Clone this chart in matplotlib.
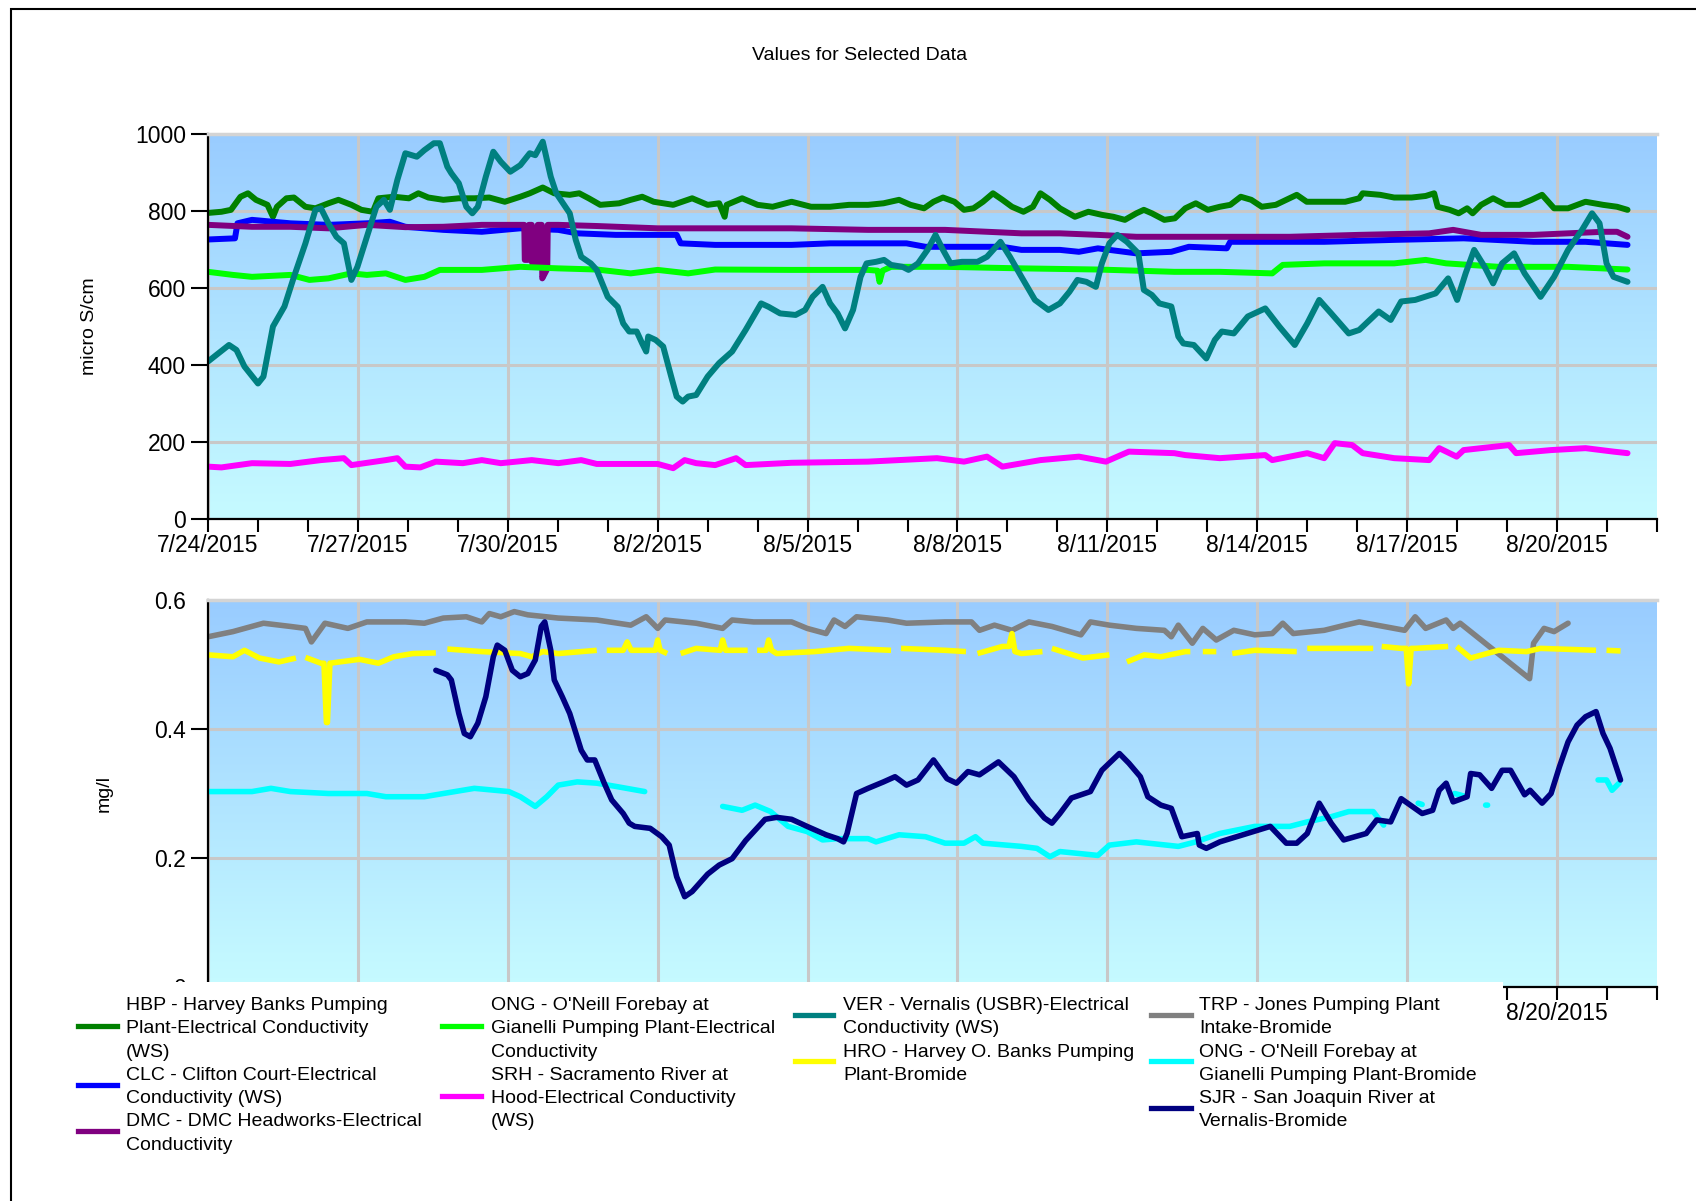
import numpy as np
import pandas as pd
import matplotlib
matplotlib.use("Agg")
import matplotlib.pyplot as plt
import matplotlib.dates as mdates
from matplotlib.colors import LinearSegmentedColormap
from matplotlib.lines import Line2D
from matplotlib.patches import Rectangle

plt.rcParams['font.family'] = ['Liberation Sans', 'DejaVu Sans']

START = pd.Timestamp('2015-07-24')
END = pd.Timestamp('2015-08-22')

tick_labels = ["7/24/2015", "7/27/2015", "7/30/2015", "8/2/2015", "8/5/2015",
               "8/8/2015", "8/11/2015", "8/14/2015", "8/17/2015", "8/20/2015"]
# the lower axis only shows its last date; the rest sit under the legend
lower_tick_labels = ["", "", "", "", "", "", "", "", "", "8/20/2015"]

# ---- electrical conductivity (micro S/cm), x = days after 7/24/2015 ----
hbp_day = [0, 0.27, 0.46, 0.65, 0.80, 0.96, 1.19, 1.30, 1.38, 1.57, 1.72, 1.95, 2.15, 2.41, 2.61,
           2.87, 3.07, 3.30, 3.41, 3.72, 4.02, 4.21, 4.41, 4.71, 5.02, 5.33, 5.63, 5.94, 6.25, 6.44,
           6.70, 6.93, 7.24, 7.43, 7.62, 7.85, 8.23, 8.46, 8.69, 8.92, 9.31, 9.69, 10.0, 10.23, 10.34,
           10.38, 10.69, 11.0, 11.30, 11.68, 12.07, 12.45, 12.83, 13.21, 13.52, 13.83, 14.06, 14.33,
           14.52, 14.71, 14.94, 15.13, 15.32, 15.51, 15.71, 15.90, 16.09, 16.32, 16.51, 16.66, 16.85,
           17.05, 17.35, 17.62, 17.89, 18.12, 18.35, 18.58, 18.73, 18.89, 19.14, 19.35, 19.56, 19.77,
           20.01, 20.25, 20.46, 20.67, 20.88, 21.09, 21.37, 21.58, 21.79, 21.99, 22.34, 22.76, 23.04,
           23.11, 23.46, 23.74, 24.09, 24.37, 24.54, 24.61, 24.85, 25.03, 25.20, 25.31, 25.48, 25.72,
           25.97, 26.25, 26.49, 26.70, 26.94, 27.22, 27.57, 27.92, 28.20, 28.41]
hbp_val = [795, 798, 803, 837, 846, 829, 816, 785, 811, 833, 835, 811, 807, 820, 829,
           816, 803, 798, 833, 837, 833, 846, 835, 829, 833, 833, 835, 824, 837, 846,
           861, 846, 842, 846, 833, 816, 820, 829, 837, 824, 816, 833, 816, 820, 785,
           816, 833, 816, 811, 824, 811, 811, 816, 816, 820, 829, 816, 807,
           824, 835, 824, 803, 807, 824, 846, 829, 811, 798, 811, 846, 829,
           807, 785, 798, 790, 785, 777, 794, 803, 794, 777, 781, 807, 820,
           803, 811, 816, 837, 829, 811, 816, 829, 842, 824, 824, 824, 833,
           846, 842, 835, 835, 839, 846, 811, 803, 794, 807, 794, 816, 833,
           816, 816, 829, 842, 807, 807, 824, 816, 811, 803]

clc_day = [0, 0.54, 0.59, 0.88, 1.65, 2.41, 3.18, 3.64, 3.95, 4.71, 5.48, 6.25, 7.01, 7.39, 8.16,
           8.62, 9.38, 9.46, 10.15, 10.92, 11.68, 12.45, 13.21, 13.98, 14.36, 15.13, 15.90, 16.28,
           17.05, 17.43, 17.81, 18.04, 18.58, 19.28, 19.63, 20.39, 20.46, 21.30, 22.34, 23.74, 25.13,
           26.53, 27.57, 28.41]
clc_val = [726, 729, 768, 777, 768, 764, 768, 772, 759, 751, 746, 755, 751, 742, 738,
           738, 738, 716, 712, 712, 712, 716, 716, 716, 707, 707, 707, 699,
           699, 694, 703, 699, 690, 694, 707, 703, 720, 720, 720, 725, 729,
           720, 720, 712]

dmc_day = [0, 0.88, 1.65, 2.41, 3.18, 3.95, 4.71, 5.48, 6.25, 6.33, 6.34, 6.41, 6.42, 6.48, 6.49,
           6.59, 6.60, 6.68, 6.69, 6.79, 6.80, 7.01, 7.78, 9.0, 10.15, 11.68, 13.21, 14.75, 16.28,
           17.05, 17.81, 18.58, 19.56, 20.25, 21.65, 23.04, 24.44, 24.92, 25.48, 26.53, 27.92, 28.20,
           28.41]
dmc_val = [764, 759, 759, 755, 764, 758, 759, 764, 764, 764, 673, 673, 764, 764, 664,
           664, 764, 764, 625, 650, 764, 764, 761, 755, 755, 755, 751, 751, 742,
           742, 738, 733, 733, 733, 733, 738, 742, 751, 738, 738, 746, 746,
           733]

ong_ec_day = [0, 0.5, 0.88, 1.65, 2.03, 2.41, 2.87, 3.18, 3.56, 3.95, 4.33, 4.64, 5.48, 6.25, 7.01,
              7.78, 8.46, 9.0, 9.61, 10.15, 11.68, 13.21, 13.40, 13.44, 13.50, 13.67, 14.75, 16.28,
              17.81, 19.34, 20.25, 21.30, 21.51, 22.34, 23.74, 24.37, 24.78, 25.83, 27.22, 28.41]
ong_ec_val = [642, 634, 629, 634, 621, 625, 638, 634, 638, 621, 629, 647, 647, 655, 651,
              648, 638, 647, 638, 648, 647, 647, 645, 616, 645, 655, 655, 651,
              648, 642, 642, 638, 660, 664, 664, 673, 664, 655, 655, 648]

srh_day = [0, 0.27, 0.88, 1.65, 2.26, 2.72, 2.87, 3.56, 3.79, 3.95, 4.25, 4.56, 5.10, 5.48, 5.86,
           6.48, 7.01, 7.47, 7.78, 9.0, 9.31, 9.54, 9.77, 10.15, 10.57, 10.76, 11.68, 13.21, 14.59,
           15.13, 15.59, 15.90, 16.66, 17.43, 17.97, 18.43, 19.34, 19.56, 20.25, 21.16, 21.30, 22.0,
           22.34, 22.55, 22.90, 23.11, 23.74, 24.44, 24.64, 24.99, 25.13, 26.04, 26.18, 26.88, 27.57,
           28.13, 28.41]
srh_val = [136, 134, 145, 143, 153, 158, 140, 153, 158, 136, 134, 149, 145, 153, 145,
           153, 145, 153, 143, 143, 132, 153, 145, 140, 158, 140, 146, 149, 158,
           149, 162, 136, 153, 162, 149, 175, 171, 166, 158, 166, 153, 171,
           158, 197, 192, 171, 158, 153, 184, 162, 179, 192, 171, 179, 184,
           175, 171]

ver_day = [0, 0.42, 0.57, 0.73, 1.0, 1.11, 1.30, 1.53, 1.72, 1.95, 2.15, 2.26, 2.41, 2.57, 2.72,
           2.87, 2.99, 3.18, 3.37, 3.52, 3.64, 3.79, 3.95, 4.18, 4.33, 4.52, 4.64, 4.79, 4.87, 5.02,
           5.17, 5.29, 5.40, 5.56, 5.71, 5.86, 6.05, 6.25, 6.44, 6.55, 6.70, 6.86, 6.97, 7.24, 7.36,
           7.47, 7.66, 7.78, 8.0, 8.2, 8.31, 8.43, 8.58, 8.69, 8.77, 8.81, 8.96, 9.11, 9.27, 9.38,
           9.50, 9.61, 9.77, 10.0, 10.23, 10.49, 10.76, 11.07, 11.22, 11.45, 11.76, 11.95, 12.10,
           12.30, 12.45, 12.60, 12.75, 12.91, 13.06, 13.18, 13.37, 13.53, 13.67, 13.90, 14.02, 14.21,
           14.40, 14.56, 14.71, 14.86, 15.09, 15.40, 15.59, 15.86, 16.05, 16.28, 16.55, 16.82, 17.05,
           17.24, 17.40, 17.58, 17.77, 17.89, 18.04, 18.20, 18.39, 18.62, 18.73, 18.89, 19.04, 19.28,
           19.42, 19.52, 19.73, 19.98, 20.15, 20.29, 20.53, 20.81, 21.16, 21.44, 21.75, 22.0, 22.24,
           22.48, 22.83, 23.04, 23.43, 23.67, 23.88, 24.16, 24.57, 24.82, 25.0, 25.17, 25.34, 25.55,
           25.72, 25.90, 26.14, 26.35, 26.67, 26.94, 27.22, 27.50, 27.70, 27.85, 27.99, 28.13, 28.41]
ver_val = [409, 452, 439, 396, 352, 370, 500, 552, 629, 716, 803, 807, 768, 733, 716,
           621, 655, 733, 811, 829, 803, 881, 950, 941, 958, 976, 976, 915, 898, 872,
           811, 794, 811, 889, 954, 928, 902, 919, 950, 945, 980, 889, 846, 794, 725,
           681, 664, 647, 577, 551, 508, 487, 487, 456, 435, 474, 465, 448, 370, 318,
           305, 318, 322, 370, 405, 435, 491, 560, 551, 534, 530, 543, 577,
           603, 560, 534, 495, 543, 629, 664, 668, 673, 660, 655, 647, 664,
           699, 738, 699, 664, 668, 668, 681, 720, 681, 629, 569, 543, 560,
           590, 621, 616, 603, 664, 716, 738, 720, 690, 595, 582, 560, 552,
           474, 456, 452, 417, 465, 487, 482, 526, 547, 500, 452, 508, 569,
           534, 482, 491, 539, 517, 565, 569, 586, 625, 569, 638, 699, 655,
           612, 664, 690, 638, 577, 629, 699, 751, 794, 768, 664, 629, 616]

# ---- bromide (mg/l) ----
trp_day = [0, 0.5, 1.11, 1.65, 1.95, 2.07, 2.34, 2.80, 3.18, 3.95, 4.33, 4.71, 5.17, 5.48, 5.63,
           5.86, 6.13, 6.40, 7.01, 7.78, 8.46, 8.77, 9.0, 9.15, 9.77, 10.30, 10.49, 10.92, 11.68,
           11.99, 12.37, 12.53, 12.75, 12.98, 13.60, 13.98, 14.75, 15.28, 15.44, 15.74, 16.09, 16.43,
           16.89, 17.47, 17.66, 18.04, 18.58, 19.14, 19.28, 19.42, 19.70, 19.91, 20.18, 20.53, 20.95,
           21.30, 21.51, 21.72, 22.34, 22.76, 23.04, 23.74, 23.95, 24.16, 24.37, 24.78, 24.92, 25.06,
           26.45, 26.53, 26.74, 26.94, 27.22]
trp_val = [0.543, 0.551, 0.564, 0.559, 0.556, 0.535, 0.564, 0.556, 0.566, 0.566, 0.564, 0.572, 0.574,
           0.566, 0.579, 0.574, 0.582, 0.577, 0.572, 0.569, 0.561, 0.574, 0.556, 0.569, 0.564, 0.556,
           0.569, 0.566, 0.566, 0.556, 0.548, 0.569, 0.559, 0.574, 0.569, 0.564, 0.566, 0.566, 0.553,
           0.561, 0.553, 0.566, 0.559, 0.546, 0.566, 0.561, 0.556, 0.553, 0.543, 0.561, 0.533, 0.556,
           0.538, 0.553, 0.546, 0.548, 0.564, 0.548, 0.553, 0.561, 0.566, 0.556, 0.553, 0.574, 0.556,
           0.569, 0.556, 0.564, 0.478, 0.533, 0.556, 0.551, 0.564]

# None marks a break in the record
hro_day = [0, 0.5, 0.73, 1.03, 1.42, 1.76, 1.85, 1.95, 2.26, 2.32, 2.37, 2.39, 2.44, 3.03, 3.41,
           3.72, 4.10, 4.56, 4.68, 4.79, 5.48, 6.25, 6.48, 6.70, 7.01, 7.78, 7.88, 7.98, 8.31, 8.39,
           8.47, 8.62, 8.95, 9.0, 9.05, 9.19, 9.3, 9.46, 9.77, 10.25, 10.30, 10.36, 10.46, 10.80, 10.9,
           10.99, 11.17, 11.22, 11.28, 11.38, 12.14, 12.83, 13.67, 13.77, 13.87, 14.75, 15.17, 15.3,
           15.40, 15.90, 16.03, 16.09, 16.15, 16.28, 16.70, 16.8, 16.89, 17.51, 18.04, 18.2, 18.39,
           18.74, 19.07, 19.56, 19.66, 19.8, 19.91, 20.18, 20.35, 20.50, 20.95, 21.79, 21.9, 22.0,
           23.32, 23.4, 23.49, 23.88, 23.98, 24.03, 24.08, 24.16, 24.82, 24.9, 24.99, 25.27, 25.83,
           26.39, 26.67, 27.78, 27.9, 27.99, 28.27]
hro_val = [0.515, 0.512, 0.522, 0.510, 0.504, 0.510, None, 0.511, 0.502, 0.502, 0.41, 0.41, 0.502,
           0.508, 0.502, 0.512, 0.517, 0.518, None, 0.524, 0.520, 0.517, 0.512, 0.520, 0.517, 0.522,
           None, 0.522, 0.522, 0.535, 0.522, 0.522, 0.522, 0.538, 0.522, 0.517, None, 0.517, 0.525,
           0.522, 0.538, 0.522, 0.522, 0.522, None, 0.522, 0.522, 0.538, 0.522, 0.517, 0.520, 0.525,
           0.522, None, 0.525, 0.522, 0.520, None, 0.517, 0.528, 0.528, 0.548, 0.520, 0.517, 0.520,
           None, 0.525, 0.510, 0.515, None, 0.504, 0.515, 0.512, 0.520, 0.520, None, 0.520, 0.520,
           None, 0.517, 0.522, 0.520, None, 0.525, 0.525, None, 0.528, 0.525, 0.525, 0.470, 0.525,
           0.525, 0.528, None, 0.528, 0.510, 0.522, 0.520, 0.525, 0.522, None, 0.522, 0.521]

ong_br_day = [0, 0.88, 1.26, 1.65, 2.41, 3.18, 3.56, 4.33, 4.71, 5.33, 6.02, 6.25, 6.55, 6.78, 7.01,
              7.39, 7.78, 8.16, 8.74, 9.5, 10.30, 10.69, 10.95, 11.26, 11.61, 11.99, 12.30, 12.60,
              13.21, 13.37, 13.83, 14.36, 14.75, 15.13, 15.36, 15.51, 16.28, 16.59, 16.85, 17.05,
              17.81, 18.04, 18.58, 19.42, 19.77, 20.25, 20.95, 21.65, 22.0, 22.48, 22.83, 23.32,
              23.53, 23.9, 24.22, 24.30, 24.6, 24.95, 25.05, 25.17, 25.4, 25.57, 25.61, 26.7, 27.82,
              27.99, 28.10, 28.24]
ong_br_val = [0.303, 0.303, 0.308, 0.303, 0.300, 0.300, 0.295, 0.295, 0.300, 0.308, 0.303, 0.295,
              0.280, 0.295, 0.313, 0.318, 0.316, 0.311, 0.303, None, 0.280, 0.274, 0.282, 0.272,
              0.249, 0.241, 0.228, 0.230, 0.230, 0.225, 0.236, 0.233, 0.223, 0.223, 0.233, 0.223,
              0.218, 0.215, 0.202, 0.210, 0.204, 0.220, 0.225, 0.218, 0.225, 0.238, 0.249, 0.249,
              0.256, 0.264, 0.272, 0.272, 0.251, None, 0.285, 0.283, None, 0.300, 0.298, 0.295,
              None, 0.282, 0.282, None, 0.321, 0.321, 0.305, 0.316]

sjr_day = [4.56, 4.79, 4.87, 5.02, 5.13, 5.25, 5.40, 5.56, 5.71, 5.79, 5.94, 6.09, 6.25, 6.40, 6.55,
           6.67, 6.74, 6.86, 6.93, 7.09, 7.24, 7.47, 7.59, 7.74, 7.93, 8.08, 8.31, 8.43, 8.54, 8.85,
           9.08, 9.23, 9.38, 9.54, 9.69, 10.0, 10.23, 10.49, 10.76, 11.15, 11.38, 11.68, 11.99, 12.37,
           12.60, 12.72, 12.79, 12.98, 13.21, 13.52, 13.75, 13.98, 14.21, 14.52, 14.79, 14.98, 15.21,
           15.44, 15.82, 16.13, 16.43, 16.74, 16.89, 17.05, 17.28, 17.66, 17.89, 18.24, 18.43, 18.66,
           18.81, 19.07, 19.28, 19.49, 19.80, 19.84, 19.98, 20.25, 21.26, 21.58, 21.79, 22.0, 22.24,
           22.48, 22.73, 23.18, 23.39, 23.67, 23.88, 24.30, 24.51, 24.64, 24.78, 24.92, 25.20, 25.27,
           25.45, 25.69, 25.90, 26.07, 26.35, 26.46, 26.70, 26.88, 27.05, 27.22, 27.40, 27.57, 27.78,
           27.92, 28.06, 28.27]
sjr_val = [0.491, 0.484, 0.476, 0.424, 0.393, 0.388, 0.409, 0.450, 0.512, 0.530, 0.522, 0.491, 0.481,
           0.486, 0.507, 0.559, 0.566, 0.522, 0.476, 0.450, 0.424, 0.367, 0.352, 0.352, 0.316, 0.290,
           0.269, 0.254, 0.249, 0.246, 0.233, 0.220, 0.171, 0.140, 0.148, 0.175, 0.189, 0.199, 0.227,
           0.260, 0.263, 0.260, 0.249, 0.236, 0.230, 0.225, 0.238, 0.300, 0.308, 0.318, 0.326, 0.313,
           0.321, 0.352, 0.323, 0.316, 0.334, 0.329, 0.349, 0.326, 0.290, 0.262, 0.254, 0.269, 0.293,
           0.303, 0.336, 0.362, 0.347, 0.326, 0.295, 0.282, 0.277, 0.233, 0.238, 0.220, 0.215, 0.225,
           0.249, 0.223, 0.223, 0.238, 0.285, 0.254, 0.228, 0.238, 0.259, 0.256, 0.292, 0.269, 0.274,
           0.305, 0.316, 0.287, 0.295, 0.331, 0.329, 0.308, 0.336, 0.336, 0.298, 0.305, 0.285, 0.300,
           0.342, 0.380, 0.406, 0.419, 0.427, 0.393, 0.370, 0.321]

legend_labels = [
    ["HBP - Harvey Banks Pumping", "Plant-Electrical Conductivity", "(WS)"],
    ["CLC - Clifton Court-Electrical", "Conductivity (WS)"],
    ["DMC - DMC Headworks-Electrical", "Conductivity"],
    ["ONG - O'Neill Forebay at", "Gianelli Pumping Plant-Electrical", "Conductivity"],
    ["SRH - Sacramento River at", "Hood-Electrical Conductivity", "(WS)"],
    ["VER - Vernalis (USBR)-Electrical", "Conductivity (WS)"],
    ["HRO - Harvey O. Banks Pumping", "Plant-Bromide"],
    ["TRP - Jones Pumping Plant", "Intake-Bromide"],
    ["ONG - O'Neill Forebay at", "Gianelli Pumping Plant-Bromide"],
    ["SJR - San Joaquin River at", "Vernalis-Bromide"],
]
legend_column = [0, 0, 0, 1, 1, 2, 2, 3, 3, 3]

C_HBP, C_CLC, C_DMC, C_ONG, C_SRH = '#008000', '#0000FF', '#800080', '#00FF00', '#FF00FF'
C_VER, C_HRO, C_TRP, C_ONGB, C_SJR = '#008080', '#FFFF00', '#808080', '#00FFFF', '#000080'
legend_colors = [C_HBP, C_CLC, C_DMC, C_ONG, C_SRH, C_VER, C_HRO, C_TRP, C_ONGB, C_SJR]


def to_dates(days):
    return START + pd.to_timedelta(np.asarray(days, dtype=float), unit='D')


def to_vals(vals):
    return np.array([np.nan if v is None else v for v in vals], dtype=float)


W, H = 1696, 1201
fig = plt.figure(figsize=(W / 100, H / 100), dpi=100)


def fx(px):
    return px / W


def fy(py):
    return 1 - py / H


ax_ec = fig.add_axes([fx(208), fy(519), (1657 - 208) / W, (519 - 134) / H])
ax_br = fig.add_axes([fx(208), fy(987), (1657 - 208) / W, (987 - 600) / H])

sky = LinearSegmentedColormap.from_list('sky', ['#C6FBFF', '#99CCFF'])
tick_dates = pd.to_datetime(tick_labels, format='%m/%d/%Y')

for ax, labels in ((ax_ec, tick_labels), (ax_br, lower_tick_labels)):
    ax.imshow(np.linspace(1, 0, 256).reshape(-1, 1), cmap=sky, aspect='auto',
              extent=[0, 1, 0, 1], transform=ax.transAxes, zorder=-1,
              interpolation='bilinear')
    ax.set_xlim(START, END)
    ax.set_xticks(tick_dates)
    ax.set_xticklabels(labels)
    ax.xaxis.set_minor_locator(mdates.DayLocator())
    ax.grid(True, which='major', color='#C8C8C8', lw=2.2)
    ax.set_axisbelow(True)
    ax.spines['right'].set_visible(False)
    ax.spines['top'].set_color('#D4D4D4')
    ax.spines['top'].set_linewidth(2.5)
    ax.spines['left'].set_linewidth(1.6)
    ax.spines['bottom'].set_linewidth(1.6)
    ax.tick_params(axis='x', which='both', length=9, width=1.5, pad=2, labelsize=16.5)
    ax.tick_params(axis='y', length=12, width=1.5, pad=4, labelsize=16.5)

# conductivity panel
ec_series = [(hbp_day, hbp_val, C_HBP), (clc_day, clc_val, C_CLC), (dmc_day, dmc_val, C_DMC),
             (ong_ec_day, ong_ec_val, C_ONG), (srh_day, srh_val, C_SRH), (ver_day, ver_val, C_VER)]
for d, v, c in ec_series:
    ax_ec.plot(to_dates(d), to_vals(v), color=c, lw=4.3,
               solid_capstyle='round', solid_joinstyle='round', zorder=2)
ax_ec.set_ylim(0, 1000)
ax_ec.set_yticks([0, 200, 400, 600, 800, 1000])
ax_ec.set_ylabel('micro S/cm', fontsize=14, va='center')
ax_ec.yaxis.set_label_coords((89 - 208) / 1449, 0.5)

# bromide panel
br_series = [(trp_day, trp_val, C_TRP, 'round'), (hro_day, hro_val, C_HRO, 'butt'),
             (ong_br_day, ong_br_val, C_ONGB, 'round'), (sjr_day, sjr_val, C_SJR, 'round')]
for d, v, c, cap in br_series:
    ax_br.plot(to_dates(d), to_vals(v), color=c, lw=4.0,
               solid_capstyle=cap, solid_joinstyle='round', zorder=2)
ax_br.set_ylim(0, 0.6)
ax_br.set_yticks([0, 0.2, 0.4, 0.6])
ax_br.set_yticklabels(['0', '0.2', '0.4', '0.6'])
ax_br.yaxis.get_major_ticks()[3].tick1line.set_visible(False)
ax_br.set_ylabel('mg/l', fontsize=14, va='center')
ax_br.yaxis.set_label_coords((104 - 208) / 1449, 0.5)

fig.text(fx(860), fy(55), 'Values for Selected Data', ha='center', va='center', fontsize=14)

# legend panel sits over the lower axis
fig.add_artist(Rectangle((fx(14), -0.01), fx(1503) - fx(14), fy(982) + 0.01,
                         transform=fig.transFigure, facecolor='white', edgecolor='none', zorder=5))
col_x = [(78, 117, 126), (442, 481, 491), (795, 833, 843), (1151, 1191, 1199)]
line_no = [0, 0, 0, 0]
for labels, col, c in zip(legend_labels, legend_column, legend_colors):
    x0, x1, xt = col_x[col]
    first = line_no[col]
    for k, s in enumerate(labels):
        yc = 1003 + 23.3 * (first + k)
        fig.text(fx(xt), fy(yc + 7), s, fontsize=14, ha='left', va='baseline', zorder=6)
    ymid = 1003 + 23.3 * (first + (len(labels) - 1) / 2)
    fig.add_artist(Line2D([fx(x0), fx(x1)], [fy(ymid), fy(ymid)], color=c, lw=3.8,
                          transform=fig.transFigure, zorder=6))
    line_no[col] += len(labels)

# outer frame
fig.add_artist(Rectangle((fx(11), -0.05), 1.1, fy(9) + 0.05, transform=fig.transFigure,
                         fill=False, edgecolor='black', lw=1.5, zorder=7, clip_on=False))

fig.savefig('out.png', dpi=100)
